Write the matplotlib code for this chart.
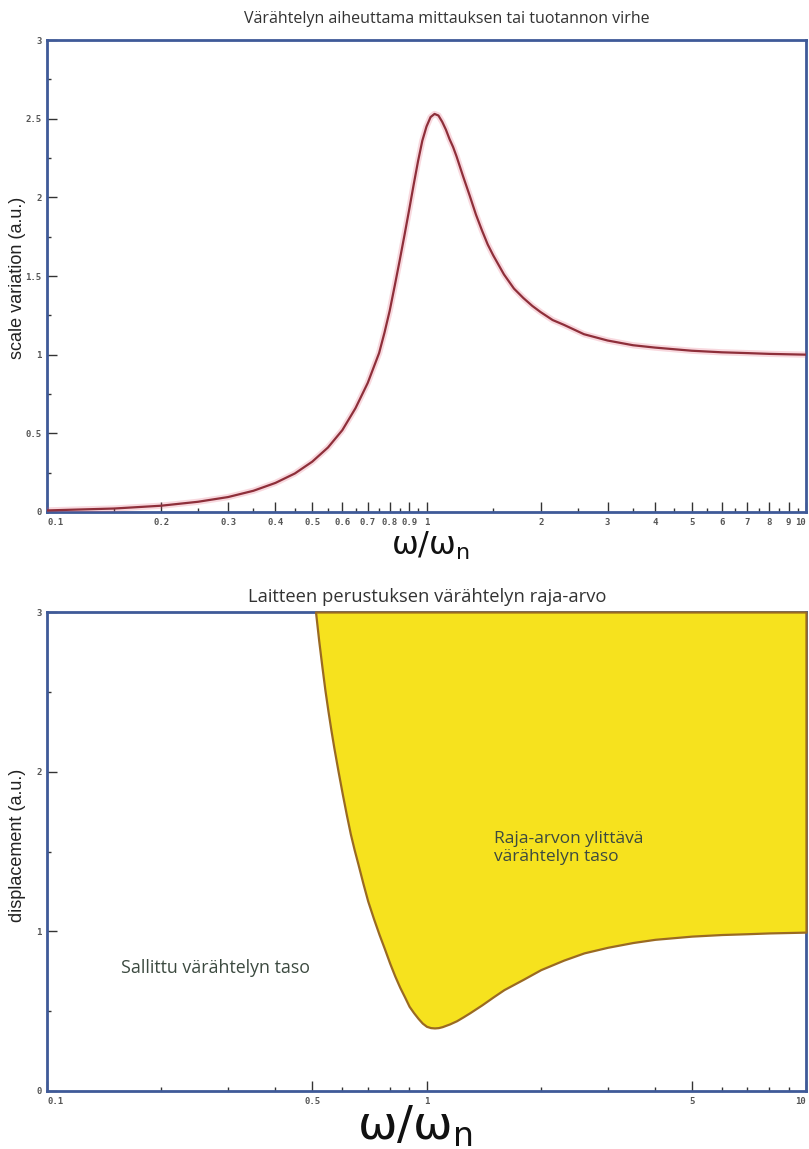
import matplotlib
matplotlib.use("Agg")
import matplotlib.pyplot as plt
from matplotlib.ticker import FixedLocator, FixedFormatter, NullFormatter

# ---------------- data ----------------
top_title = "Värähtelyn aiheuttama mittauksen tai tuotannon virhe"
bot_title = "Laitteen perustuksen värähtelyn raja-arvo"
top_ylabel = "scale variation (a.u.)"
bot_ylabel = "displacement (a.u.)"
x_label = "ω/ω$_\\mathregular{n}$"

# frequency ratio vs scale variation (top panel)
top_r = [0.1, 0.15, 0.2, 0.25, 0.3, 0.35, 0.4, 0.45, 0.5, 0.55, 0.6, 0.65, 0.7,
         0.75, 0.775, 0.8, 0.825, 0.85, 0.875, 0.9, 0.925, 0.95, 0.975, 1.0,
         1.025, 1.05, 1.075, 1.1, 1.125, 1.15, 1.175, 1.2, 1.25, 1.3, 1.35,
         1.4, 1.45, 1.5, 1.6, 1.7, 1.8, 1.9, 2.0, 2.15, 2.3, 2.6, 3.0, 3.5,
         4.0, 5.0, 6.0, 7.0, 8.0, 10.0]
top_val = [0.01, 0.022, 0.04, 0.065, 0.095, 0.135, 0.185, 0.245, 0.32, 0.41,
           0.52, 0.66, 0.82, 1.01, 1.14, 1.28, 1.44, 1.60, 1.76, 1.92, 2.08,
           2.23, 2.36, 2.45, 2.51, 2.53, 2.52, 2.48, 2.43, 2.37, 2.32, 2.26,
           2.13, 2.01, 1.89, 1.79, 1.70, 1.63, 1.51, 1.42, 1.36, 1.31, 1.27,
           1.22, 1.19, 1.13, 1.09, 1.06, 1.045, 1.025, 1.015, 1.01, 1.005, 1.0]

# frequency ratio vs allowed displacement limit (bottom panel)
bot_r = [0.51, 0.52, 0.53, 0.54, 0.55, 0.56, 0.57, 0.585, 0.6, 0.615, 0.63,
         0.645, 0.66, 0.68, 0.7, 0.725, 0.75, 0.775, 0.8, 0.825, 0.85, 0.875,
         0.9, 0.925, 0.95, 0.975, 1.0, 1.025, 1.05, 1.075, 1.1, 1.15, 1.2,
         1.25, 1.3, 1.4, 1.5, 1.6, 1.8, 2.0, 2.3, 2.6, 3.0, 3.5, 4.0, 5.0,
         6.0, 7.0, 8.0, 10.0]
bot_val = [3.0, 2.82, 2.66, 2.51, 2.38, 2.26, 2.15, 2.0, 1.86, 1.73, 1.61,
           1.51, 1.42, 1.30, 1.19, 1.08, 0.98, 0.89, 0.80, 0.72, 0.65, 0.59,
           0.53, 0.49, 0.455, 0.425, 0.405, 0.397, 0.395, 0.397, 0.403, 0.42,
           0.44, 0.465, 0.49, 0.54, 0.59, 0.635, 0.70, 0.76, 0.82, 0.865, 0.90,
           0.93, 0.95, 0.97, 0.98, 0.985, 0.99, 0.995]

top_xticks = [0.1, 0.2, 0.3, 0.4, 0.5, 0.6, 0.7, 0.8, 0.9, 1, 2, 3, 4, 5, 6, 7, 8, 9, 10]
top_xticklabels = ["0.1", "0.2", "0.3", "0.4", "0.5", "0.6", "0.7", "0.8", "0.9", "1",
                   "2", "3", "4", "5", "6", "7", "8", "9", "10"]
top_xminor = [0.15, 0.25, 0.35, 0.45, 0.55, 0.65, 0.75, 0.85, 0.95,
              1.5, 2.5, 3.5, 4.5, 5.5, 6.5, 7.5, 8.5, 9.5]
top_yticks = [0, 0.5, 1, 1.5, 2, 2.5, 3]
top_yticklabels = ["0", "0.5", "1", "1.5", "2", "2.5", "3"]
top_yminor = [0.25, 0.75, 1.25, 1.75, 2.25, 2.75]

bot_xticks = [0.1, 0.5, 1, 5, 10]
bot_xticklabels = ["0.1", "0.5", "1", "5", "10"]
bot_xminor = [0.2, 0.3, 0.4, 0.6, 0.7, 0.8, 0.9, 2, 3, 4, 6, 7, 8, 9]
bot_yticks = [0, 1, 2, 3]
bot_yticklabels = ["0", "1", "2", "3"]
bot_yminor = [0.5, 1.5, 2.5]

label_exceed = "Raja-arvon ylittävä\nvärähtelyn taso"
label_allowed = "Sallittu värähtelyn taso"

# ---------------- style ----------------
W, H = 809, 1149
fig = plt.figure(figsize=(W / 100, H / 100), dpi=100)
spine_col = "#3f5a98"
tick_col = "#555555"
text_col = "#333333"


def setup(ax, xt, xtl, xmin, yt, ytl, ymin):
    ax.set_xscale("log")
    ax.set_xlim(0.1, 10)
    ax.set_ylim(0, 3)
    ax.xaxis.set_major_locator(FixedLocator(xt))
    ax.xaxis.set_major_formatter(FixedFormatter(xtl))
    ax.xaxis.set_minor_locator(FixedLocator(xmin))
    ax.xaxis.set_minor_formatter(NullFormatter())
    ax.yaxis.set_major_locator(FixedLocator(yt))
    ax.yaxis.set_major_formatter(FixedFormatter(ytl))
    ax.yaxis.set_minor_locator(FixedLocator(ymin))
    for s in ax.spines.values():
        s.set_color(spine_col)
        s.set_linewidth(2)
    ax.tick_params(which="both", direction="in", color="#333333", width=1,
                   labelsize=6.5, labelcolor=tick_col)
    ax.tick_params(which="major", length=7, pad=4)
    ax.tick_params(which="minor", length=3)
    xl = ax.get_xticklabels()
    for lab in xl + ax.get_yticklabels():
        lab.set_fontweight("bold")
        lab.set_family("DejaVu Sans Mono")
    xl[-1].set_horizontalalignment("right")
    xl[0].set_horizontalalignment("left")


left = 47 / W
right = 806 / W
# top axes: y 40 .. 512 px
ax1 = fig.add_axes([left, 1 - 512 / H, right - left, (512 - 40) / H])
setup(ax1, top_xticks, top_xticklabels, top_xminor, top_yticks, top_yticklabels, top_yminor)
ax1.plot(top_r, top_val, color="#e0506a", lw=4.5, alpha=0.22, solid_capstyle="round", zorder=3)
ax1.plot(top_r, top_val, color="#8e2f3a", lw=1.6, zorder=4)
fig.text(447 / W, 1 - 19 / H, top_title, fontsize=11.5, family="Open Sans",
         color=text_col, ha="center", va="center")
fig.text(18 / W, 1 - 278 / H, top_ylabel, fontsize=13, family="Liberation Sans",
         color="#222222", rotation=90, ha="center", va="center")
fig.text(430 / W, 1 - 546 / H, x_label, fontsize=23, family="DejaVu Sans",
         ha="center", va="center", color="#111111")

# bottom axes: y 612 .. 1091 px
ax2 = fig.add_axes([left, 1 - 1091 / H, right - left, (1091 - 612) / H])
setup(ax2, bot_xticks, bot_xticklabels, bot_xminor, bot_yticks, bot_yticklabels, bot_yminor)
ax2.fill_between(bot_r, bot_val, 3, facecolor="#f6e21e", edgecolor="#9a6a22",
                 linewidth=1.6, zorder=3, clip_on=False)
fig.text(427 / W, 1 - 597 / H, bot_title, fontsize=13.2, family="Open Sans",
         color=text_col, ha="center", va="center")
fig.text(18 / W, 1 - 845 / H, bot_ylabel, fontsize=13, family="Liberation Sans",
         color="#222222", rotation=90, ha="center", va="center")
ax2.text(1.51, 1.52, label_exceed, fontsize=12.5,
         family="Open Sans", color="#3c4a40", ha="left", va="center",
         linespacing=1.15, zorder=5)
ax2.text(0.157, 0.77, label_allowed, fontsize=12.8,
         family="Open Sans", color="#3c4a40", ha="left", va="center", zorder=5)
fig.text(415 / W, 1 - 1127 / H, x_label, fontsize=34, family="DejaVu Sans",
         ha="center", va="center", color="#111111")

fig.savefig("out.png", dpi=100, facecolor="white")
